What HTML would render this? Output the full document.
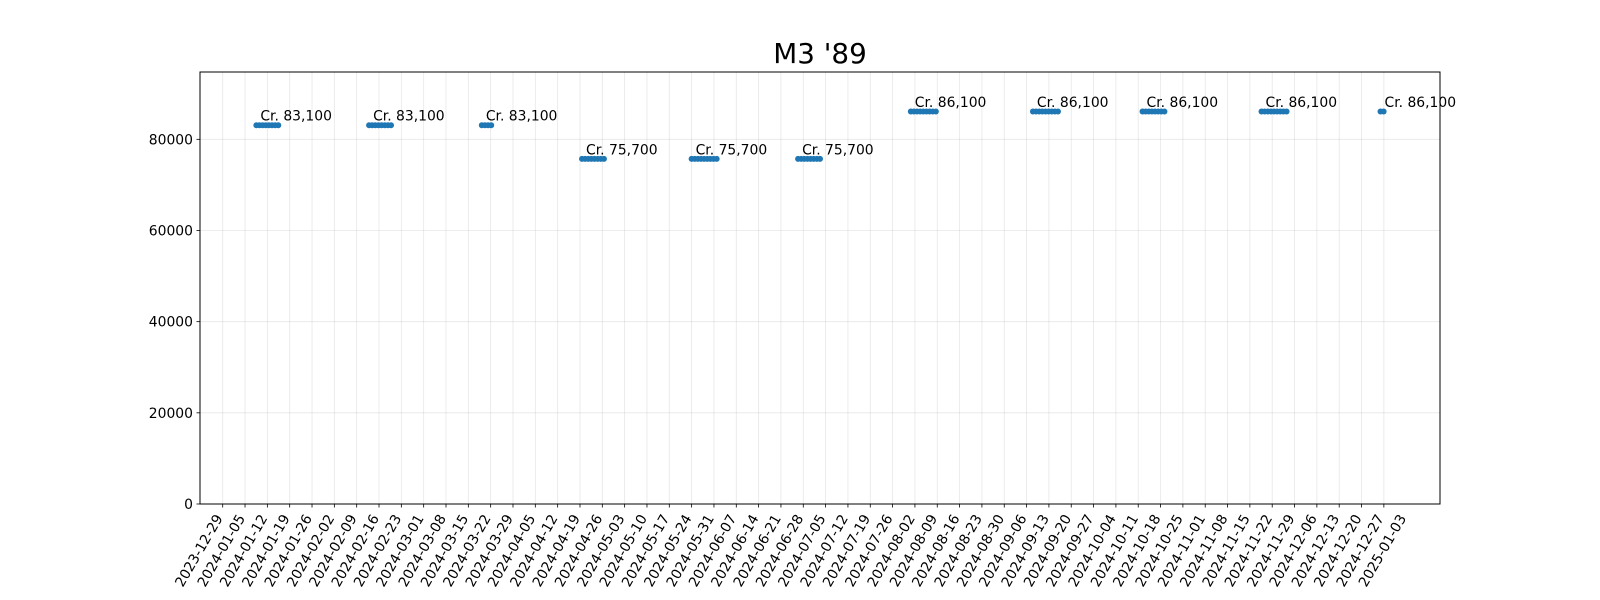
<!DOCTYPE html>
<html><head><meta charset="utf-8"><style>
html,body{margin:0;padding:0;background:#fff;}
svg{display:block;font-family:"DejaVu Sans","Liberation Sans",sans-serif;}
</style></head><body>
<svg id="chart" width="1600" height="600" viewBox="0 0 1600 600" xmlns="http://www.w3.org/2000/svg">
<rect width="1600" height="600" fill="#fff"/>
<text x="820" y="63" font-size="27.8" text-anchor="middle" fill="#000">M3 '89</text>
<g id="grid"></g><g id="marks"></g><g id="axes"></g>
</svg>
<script>
const clusterStarts = ["2024-01-09","2024-02-14","2024-03-21","2024-04-22","2024-05-27","2024-06-30","2024-08-05","2024-09-13","2024-10-18","2024-11-25","2025-01-02"];
const clusterEnds   = ["2024-01-16","2024-02-21","2024-03-24","2024-04-29","2024-06-04","2024-07-07","2024-08-13","2024-09-21","2024-10-25","2024-12-03","2025-01-03"];
const clusterPrices = [83100,83100,83100,75700,75700,75700,86100,86100,86100,86100,86100];
const yTicks = [0,20000,40000,60000,80000];
const firstTick = "2023-12-29";
const tickCount = 53;
const labelCount = 54;

const NS="http://www.w3.org/2000/svg";
const L=200,R=1440,T=72,B=504;
const DAY=86400000;
const xMin=Date.parse("2023-12-22"), xMax=Date.parse("2025-01-21");
const yMin=0,yMax=94770;
const xs=d=>L+(d-xMin)/(xMax-xMin)*(R-L);
const ys=v=>B-(v-yMin)/(yMax-yMin)*(B-T);
const t0=Date.parse(firstTick);
const TICK0=222.7, TICKW=22.33;
const tickX=i=>TICK0+i*TICKW;
function el(tag,attrs,parent){const e=document.createElementNS(NS,tag);for(const k in attrs)e.setAttribute(k,attrs[k]);parent.appendChild(e);return e;}
const grid=document.getElementById('grid'),marks=document.getElementById('marks'),axes=document.getElementById('axes');
function fmt(t){const d=new Date(t);return d.toISOString().slice(0,10);}
for(let i=0;i<tickCount;i++){
  const x=tickX(i);
  const g=el('line',{x1:x,x2:x,y1:T,y2:B,stroke:'#b0b0b0','stroke-opacity':0.3,'stroke-width':0.8},grid);
  
  
  const tk=el('line',{x1:x,x2:x,y1:B,y2:B+3.5,stroke:'#000','stroke-width':0.8},axes);
  
  
}
for(let i=0;i<labelCount;i++){
  const t=t0+i*7*DAY;const x=tickX(i);
  const lb=el('text',{x:x-3,y:516,'font-size':13.9,'text-anchor':'end','dominant-baseline':'central',transform:`rotate(-60 ${x-3} 516)`,fill:'#000'},axes);
  lb.textContent=fmt(t);
  
  
}
yTicks.forEach(v=>{
  const y=ys(v);
  const g=el('line',{x1:L,x2:R,y1:y,y2:y,stroke:'#b0b0b0','stroke-opacity':0.3,'stroke-width':0.8},grid);
  
  
  const tk=el('line',{x1:L-3.5,x2:L,y1:y,y2:y,stroke:'#000','stroke-width':0.8},axes);
  
  
  const lb=el('text',{x:L-7,y:y+5,'font-size':13.9,'text-anchor':'end',fill:'#000'},axes);
  lb.textContent=String(v);
  
  
});
const frame=el('rect',{x:L,y:T,width:R-L,height:B-T,fill:'none',stroke:'#000','stroke-width':1},axes);


clusterStarts.forEach((s,i)=>{
  const a=Date.parse(s),b=Date.parse(clusterEnds[i]);const y=ys(clusterPrices[i]);
  for(let t=a;t<=b;t+=DAY){
    const c=el('circle',{cx:xs(t),cy:y,r:3,fill:'#1f77b4'},marks);
    
    
  }
  const lab=el('text',{x:xs(a)+4,y:y-4.5,'font-size':13.9,fill:'#000'},marks);
  lab.textContent='Cr. '+clusterPrices[i].toLocaleString('en-US');
  
  
});
</script>
</body></html>
